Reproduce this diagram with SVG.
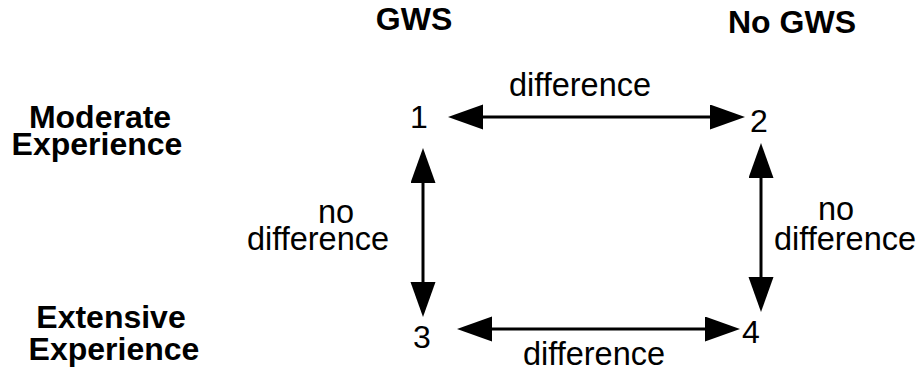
<svg xmlns="http://www.w3.org/2000/svg" width="920" height="377" viewBox="0 0 920 377">
<style>
text{font-family:"Liberation Sans",Arial,Helvetica,sans-serif;fill:#000}
.h{font-weight:bold;font-size:32px;text-anchor:middle}
.n{font-size:32px;text-anchor:middle}
.l{font-size:32.5px;text-anchor:middle}
.c{stroke:#000;stroke-width:3;fill:none;marker-start:url(#ah);marker-end:url(#ah)}
</style>
<defs>
<marker id="ah" markerUnits="userSpaceOnUse" orient="auto-start-reverse" markerWidth="36" markerHeight="26" refX="27" refY="12.5" viewBox="0 0 36 26">
<path d="M0,0 L35,12.5 L0,25 Z" fill="#000"/>
</marker>
</defs>
<rect width="920" height="377" fill="#fff"/>
<g id="col-gws"><text class="h" x="414" y="30">GWS</text></g>
<g id="col-nogws"><text class="h" x="792" y="33">No GWS</text></g>
<g id="row-moderate"><text class="h" x="100" y="128">Moderate</text><text class="h" x="97" y="155">Experience</text></g>
<g id="row-extensive"><text class="h" x="111" y="328">Extensive</text><text class="h" x="114" y="360">Experience</text></g>
<g id="node1"><text class="n" x="419" y="128">1</text></g>
<g id="node2"><text class="n" x="759" y="132">2</text></g>
<g id="node3"><text class="n" x="422" y="348">3</text></g>
<g id="node4"><text class="n" x="751" y="343">4</text></g>
<g id="connectors">
<line class="c" x1="456" y1="117" x2="737" y2="117"/>
<line class="c" x1="465" y1="329" x2="732" y2="329"/>
<line class="c" x1="423" y1="156" x2="423" y2="309"/>
<line class="c" x1="761" y1="151" x2="761" y2="304"/>
</g>
<g id="labels">
<text class="l" x="580" y="96">difference</text>
<text class="l" x="594" y="365">difference</text>
<text class="l" x="336" y="223">no</text>
<text class="l" x="318" y="250">difference</text>
<text class="l" x="836" y="220">no</text>
<text class="l" x="845" y="250">difference</text>
</g>
</svg>
